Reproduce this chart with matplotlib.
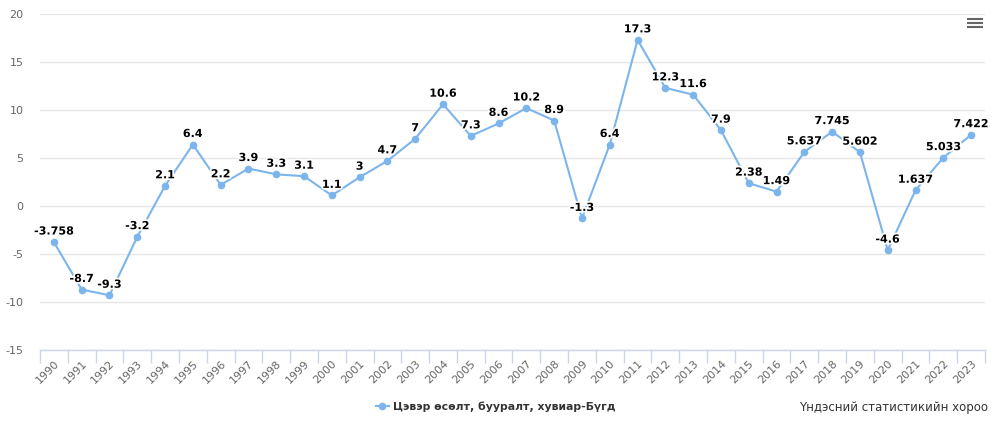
import matplotlib.pyplot as plt
import matplotlib.patheffects as pe
from matplotlib.lines import Line2D

# Data
years = [str(y) for y in range(1990, 2024)]
values = [-3.758, -8.7, -9.3, -3.2, 2.1, 6.4, 2.2, 3.9, 3.3, 3.1,
          1.1, 3, 4.7, 7, 10.6, 7.3, 8.6, 10.2, 8.9, -1.3,
          6.4, 17.3, 12.3, 11.6, 7.9, 2.38, 1.49, 5.637, 7.745, 5.602,
          -4.6, 1.637, 5.033, 7.422]
labels = ['-3.758', '-8.7', '-9.3', '-3.2', '2.1', '6.4', '2.2', '3.9', '3.3', '3.1',
          '1.1', '3', '4.7', '7', '10.6', '7.3', '8.6', '10.2', '8.9', '-1.3',
          '6.4', '17.3', '12.3', '11.6', '7.9', '2.38', '1.49', '5.637', '7.745', '5.602',
          '-4.6', '1.637', '5.033', '7.422']
yticks = [-15, -10, -5, 0, 5, 10, 15, 20]
series_name = 'Цэвэр өсөлт, бууралт, хувиар-Бүгд'
credit = 'Үндэсний статистикийн хороо'

line_color = '#7cb5ec'

fig = plt.figure(figsize=(10.03, 4.43), dpi=100)
ax = fig.add_axes([40 / 1003, 1 - 350 / 443, 945 / 1003, 336 / 443])

x = list(range(len(years)))
ax.plot(x, values, color=line_color, lw=1.5, marker='o', markersize=5.5,
        markeredgewidth=0, zorder=3)

for xi, v, t in zip(x, values, labels):
    ax.annotate(t, (xi, v), xytext=(0, 4), textcoords='offset points',
                ha='center', va='bottom', fontsize=8, fontweight='bold',
                color='black', zorder=4,
                path_effects=[pe.withStroke(linewidth=2.5, foreground='white')])

ax.set_xlim(-0.5, len(years) - 0.5)
ax.set_ylim(-15, 20)
ax.set_yticks(yticks)
ax.set_yticklabels([str(t) for t in yticks], color='#666666', fontsize=8)
ax.grid(axis='y', color='#e6e6e6', lw=1)
ax.set_axisbelow(True)

ax.set_xticks(x)
ax.set_xticklabels(years, rotation=45, ha='right', rotation_mode='anchor',
                   color='#666666', fontsize=8)
ax.set_xticks([i - 0.5 for i in range(len(years) + 1)], minor=True)
ax.tick_params(axis='x', which='major', length=0, pad=6)
ax.tick_params(axis='x', which='minor', length=9, color='#ccd6eb', width=1)
ax.tick_params(axis='y', length=0, pad=12)

for s in ['top', 'right', 'left']:
    ax.spines[s].set_visible(False)
ax.spines['bottom'].set_color('#ccd6eb')
ax.spines['bottom'].set_linewidth(1)

# legend
handle = Line2D([], [], color=line_color, lw=1.5, marker='o', markersize=5.5,
                markeredgewidth=0)
leg = fig.legend([handle], [series_name], loc='center', bbox_to_anchor=(0.494, 1 - 407 / 443),
                 frameon=False, handlelength=1.2, handletextpad=0.4,
                 prop={'weight': 'bold', 'size': 7.8})
for t in leg.get_texts():
    t.set_color('#333333')

fig.text(988 / 1003, 1 - 407 / 443, credit, ha='right', va='center',
         fontsize=8.5, color='#333333')

# menu icon
for yy in [19, 23, 27]:
    fig.add_artist(Line2D([968 / 1003, 982 / 1003], [1 - yy / 443, 1 - yy / 443],
                          color='#666666', lw=1.5, transform=fig.transFigure))

fig.savefig('out.png', dpi=100)
